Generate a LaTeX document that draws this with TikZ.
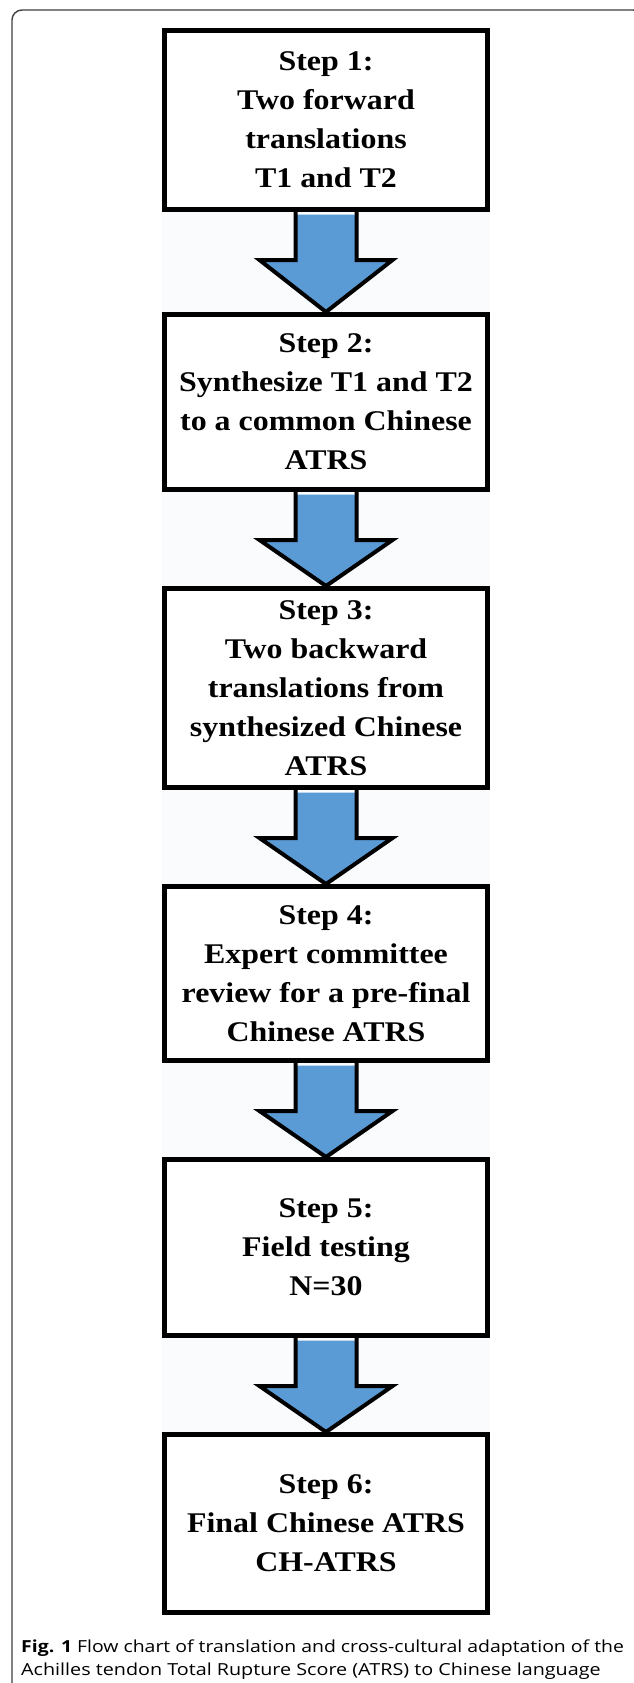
\documentclass[tikz,border=0pt]{standalone}
\usepackage{fontspec}
\setmainfont{Liberation Serif}
\newfontfamily\boxfont[FakeStretch=1.12]{Liberation Serif}
\newfontfamily\capfont{Open Sans}
\usetikzlibrary{calc}
\definecolor{arrowblue}{HTML}{5B9BD5}
\definecolor{figbg}{HTML}{FAFBFC}
\tikzset{
  stepbox/.style={draw=black, line width=5pt, fill=white, minimum width=323pt,
    align=center, inner sep=0pt, font=\boxfont\bfseries\fontsize{28.5}{39}\selectfont},
  arrowline/.style={draw=black, line width=4pt, line join=miter},
  arrowfill/.style={fill=arrowblue},
  framebox/.style={draw=black!75, line width=1.4pt, rounded corners=10pt},
  captext/.style={anchor=base west, inner sep=0pt, font=\capfont\fontsize{16.6}{23}\selectfont}
}
\newcommand{\flowarrow}[2]{%
  \fill[arrowfill] ($(#1.south)+(-30.5,2.5)$) -- ($(#1.south)+(-30.5,48)$) -- ($(#1.south)+(-66.5,48)$)
     -- (#2.north) -- ($(#1.south)+(66.5,48)$) -- ($(#1.south)+(30.5,48)$) -- ($(#1.south)+(30.5,2.5)$) -- cycle;
  \draw[arrowline] ($(#1.south)+(-30.5,0)$) -- ($(#1.south)+(-30.5,48)$) -- ($(#1.south)+(-66.5,48)$)
     -- (#2.north) -- ($(#1.south)+(66.5,48)$) -- ($(#1.south)+(30.5,48)$) -- ($(#1.south)+(30.5,0)$);
}
\begin{document}
\begin{tikzpicture}[x=1pt,y=-1pt]
\useasboundingbox (0,0) rectangle (633,1683);
\fill[white] (0,0) rectangle (633,1683);
\fill[figbg] (162,28) rectangle (490,1615);
\draw[framebox] (12,1700) -- (12,10) -- (643,10) -- (643,1700);

\node[stepbox, minimum height=179pt] (s1) at (326,120) {Step 1:\\Two forward\\translations\\T1 and T2};
\node[stepbox, minimum height=175pt] (s2) at (326,402) {Step 2:\\Synthesize T1 and T2\\to a common Chinese\\ATRS};
\node[stepbox, minimum height=199pt] (s3) at (326,688) {Step 3:\\Two backward\\translations from\\synthesized Chinese\\ATRS};
\node[stepbox, minimum height=174pt] (s4) at (326,973.5) {Step 4:\\Expert committee\\review for a pre-final\\Chinese ATRS};
\node[stepbox, minimum height=176pt] (s5) at (326,1247.5) {Step 5:\\Field testing\\N=30};
\node[stepbox, minimum height=178pt] (s6) at (326,1523.5) {Step 6:\\Final Chinese ATRS\\CH-ATRS};

\flowarrow{s1}{s2}
\flowarrow{s2}{s3}
\flowarrow{s3}{s4}
\flowarrow{s4}{s5}
\flowarrow{s5}{s6}

\node[captext] (cap1) at (21,1652) {\scalebox{1.17}[1]{\textbf{Fig. 1} Flow chart of translation and cross-cultural adaptation of the}};
\node[captext] (cap2) at (21,1675) {\scalebox{1.19}[1]{Achilles tendon Total Rupture Score (ATRS) to Chinese language}};
\end{tikzpicture}
\end{document}
